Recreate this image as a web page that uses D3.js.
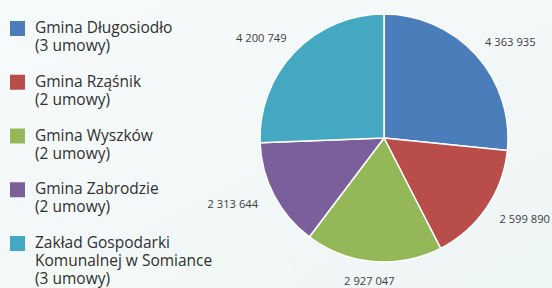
<!DOCTYPE html>
<html>
<head>
<meta charset="utf-8">
<script src="https://cdn.jsdelivr.net/npm/d3@7"></script>
<style>
  body { margin: 0; padding: 0; }
  svg { display: block; }
  text { font-family: "Open Sans", sans-serif; }
</style>
</head>
<body>
<script>
// chart size
var w = 552;
var h = 288;

// data
var names = ["Gmina Długosiodło", "Gmina Rząśnik", "Gmina Wyszków", "Gmina Zabrodzie", "Zakład Gospodarki Komunalnej w Somiance"];
var nameLines = [["Gmina Długosiodło", "(3 umowy)"], ["Gmina Rząśnik", "(2 umowy)"], ["Gmina Wyszków", "(2 umowy)"], ["Gmina Zabrodzie", "(2 umowy)"], ["Zakład Gospodarki", "Komunalnej w Somiance", "(3 umowy)"]];
var values = [4363935, 2599890, 2927047, 2313644, 4200749];
var colors = ["#4a7dba", "#b84d4a", "#94b757", "#7a5f9b", "#45a8c2"];

var svg = d3.select("body")
  .append("svg")
  .attr("width", w)
  .attr("height", h);

// background gradient
var defs = svg.append("defs");
var grad = defs.append("linearGradient")
  .attr("id", "bg")
  .attr("x1", "0").attr("y1", "0")
  .attr("x2", "1").attr("y2", "1");
grad.append("stop").attr("offset", "0").attr("stop-color", "#f7fafa");
grad.append("stop").attr("offset", "1").attr("stop-color", "#eef5f5");

svg.append("rect")
  .attr("width", w)
  .attr("height", h)
  .attr("fill", "url(#bg)");

// lighter patch at bottom left
svg.append("rect")
  .attr("x", -20)
  .attr("y", 256)
  .attr("width", 312)
  .attr("height", 60)
  .attr("rx", 14)
  .attr("fill", "#f3f9f4")
  .attr("opacity", 0.8);

// pie
var cx = 384, cy = 138, r = 124;
var pie = d3.pie().sort(null).value(function(d) { return d; });
var arcs = pie(values);
var arc = d3.arc().innerRadius(0).outerRadius(r);

var g = svg.append("g").attr("transform", "translate(" + cx + "," + cy + ")");

g.selectAll("path")
  .data(arcs)
  .enter()
  .append("path")
  .attr("d", arc)
  .attr("fill", function(d, i) { return colors[i]; })
  .attr("stroke", "#ffffff")
  .attr("stroke-width", 1.5)
  .attr("stroke-linejoin", "round");

// value labels, placed outside the slices
var fmt = function(v) { return d3.format(",")(v).replace(/,/g, " "); };
var gapX = 21, gapY = 12;
g.selectAll("text.val")
  .data(arcs)
  .enter()
  .append("text")
  .attr("class", "val")
  .attr("font-size", 11.2)
  .attr("fill", "#404040")
  .attr("text-anchor", "middle")
  .text(function(d) { return fmt(d.value); })
  .each(function(d) {
    var a = (d.startAngle + d.endAngle) / 2;
    var bb = this.getBBox();
    var s = Math.sin(a), c = -Math.cos(a);
    var x = (r + gapX) * s + bb.width / 2 * s;
    var y = (r + gapY) * c + bb.height / 2 * c;
    d3.select(this)
      .attr("x", x)
      .attr("y", y + 4);
  });

// legend
var legendX = 10;
var legendY = 21;
var itemStep = 53.75;
var lineH = 18;
var legend = svg.append("g");

nameLines.forEach(function(lines, i) {
  var y0 = legendY + i * itemStep;
  legend.append("rect")
    .attr("x", legendX)
    .attr("y", y0)
    .attr("width", 15)
    .attr("height", 15)
    .attr("fill", colors[i]);
  lines.forEach(function(t, j) {
    legend.append("text")
      .attr("x", legendX + 25)
      .attr("y", y0 + 12 + j * lineH)
      .attr("font-size", 15.5)
      .attr("fill", "#303030")
      .text(t);
  });
});
</script>
</body>
</html>
